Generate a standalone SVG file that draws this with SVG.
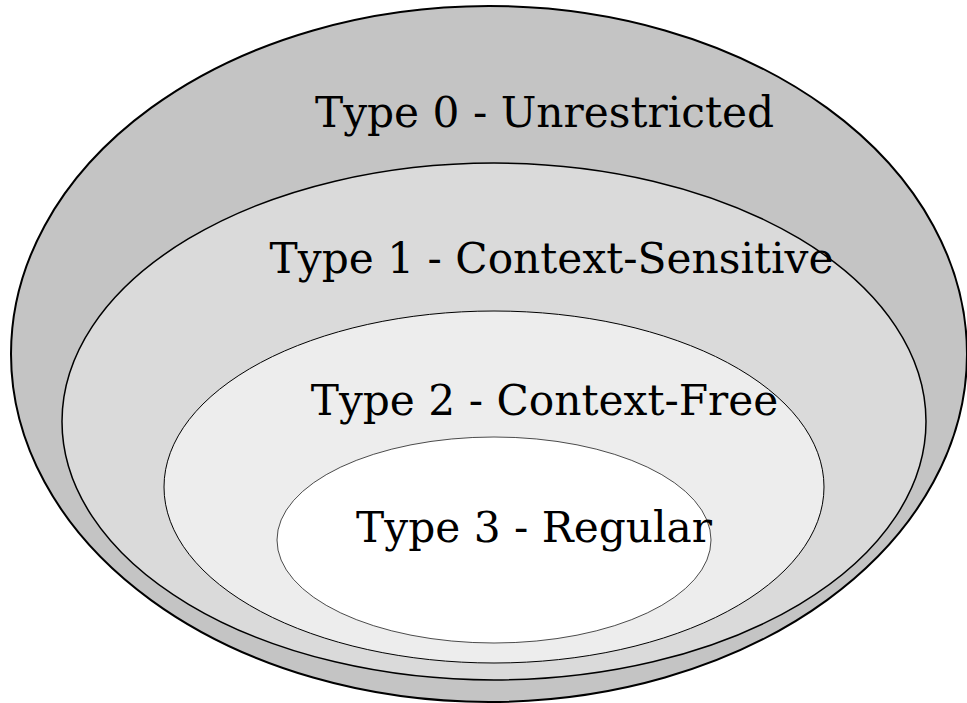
<svg xmlns="http://www.w3.org/2000/svg" width="967" height="703" viewBox="0 0 967 703">
<style>
text{font-family:"DejaVu Serif",serif;font-size:42.3px;fill:#000;text-anchor:middle}
ellipse{stroke:#000}
</style>
<rect width="967" height="703" fill="#fff"/>
<g id="type0">
<ellipse cx="489" cy="354" rx="478" ry="348" fill="#c4c4c4" stroke-width="2"/>
<text x="544.5" y="127">Type 0 - Unrestricted</text>
</g>
<g id="type1">
<ellipse cx="494" cy="421.5" rx="432" ry="258.5" fill="#dadada" stroke-width="1.5"/>
<text x="551.5" y="273">Type 1 - Context-Sensitive</text>
</g>
<g id="type2">
<ellipse cx="494" cy="487" rx="330" ry="176" fill="#ededed" stroke-width="1"/>
<text x="544.5" y="415">Type 2 - Context-Free</text>
</g>
<g id="type3">
<ellipse cx="494" cy="540" rx="217" ry="103" fill="#ffffff" stroke-width="0.7"/>
<text x="534" y="542">Type 3 - Regular</text>
</g>
<g id="connectors"/>
</svg>
